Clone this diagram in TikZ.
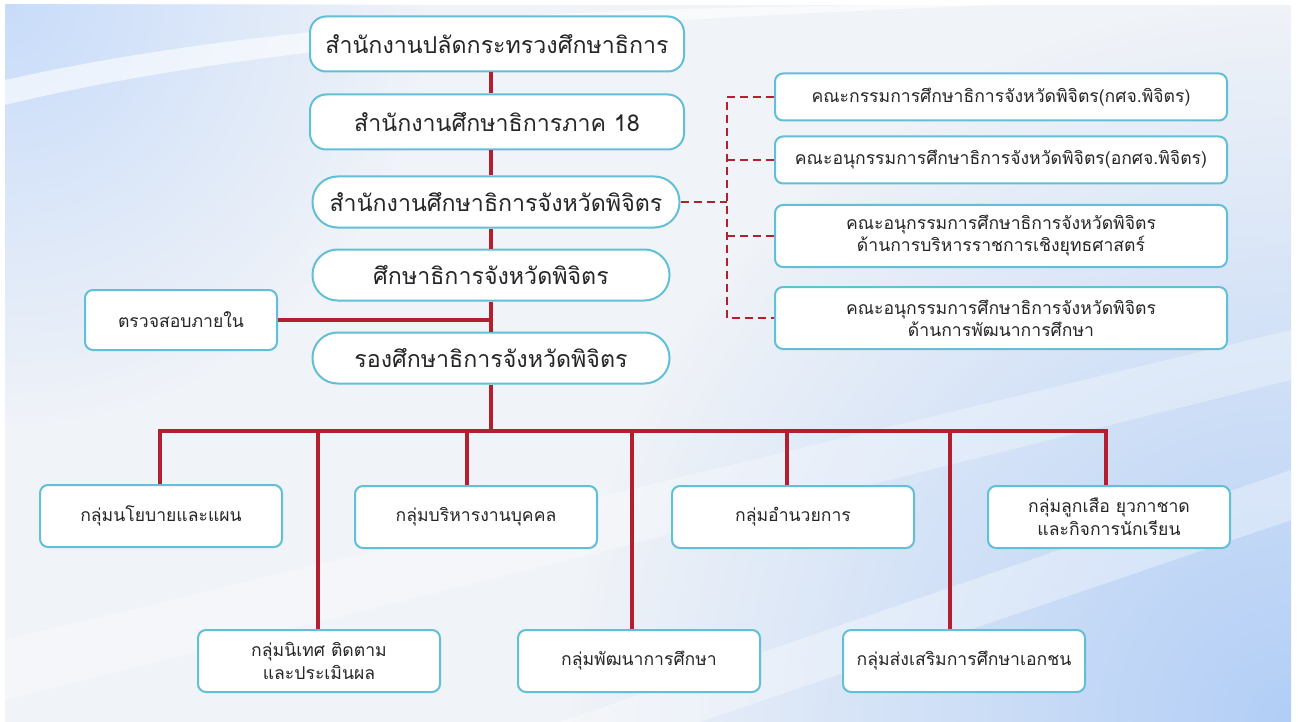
\documentclass[tikz,border=0pt]{standalone}
\usepackage{fontspec}
\newfontfamily\thaifont[Script=Thai]{Loma}
\usetikzlibrary{fadings}
\definecolor{lineRed}{RGB}{178,32,48}
\definecolor{edgeCyan}{RGB}{98,192,214}
\definecolor{bgPale}{RGB}{240,243,248}
\definecolor{bgTL}{RGB}{200,220,250}
\definecolor{bgBR}{RGB}{178,206,246}
\tikzfading[name=softglow, inner color=transparent!0, outer color=transparent!100]
\tikzset{
  unitbox/.style={draw=edgeCyan, line width=1pt, fill=white, text=black!85, align=center, inner sep=0pt},
  headbox/.style={unitbox, minimum width=187pt, minimum height=27.5pt, rounded corners=8pt, font=\thaifont\fontsize{11.6}{14}\selectfont},
  pillbox/.style={unitbox, minimum width=178.5pt, minimum height=25.5pt, rounded corners=12.5pt, font=\thaifont\fontsize{11.6}{14}\selectfont},
  groupbox/.style={unitbox, minimum width=121pt, minimum height=31pt, rounded corners=4pt, font=\thaifont\fontsize{8.8}{11.5}\selectfont},
  combox/.style={unitbox, minimum width=226pt, minimum height=23.5pt, rounded corners=4pt, font=\thaifont\fontsize{8.8}{11}\selectfont},
  redline/.style={draw=lineRed, line width=2.4pt},
  reddash/.style={draw=lineRed, line width=1.1pt, dash pattern=on 4pt off 2.5pt}
}
\begin{document}
\begin{tikzpicture}[x=0.5pt,y=-0.5pt]
\fill[white] (0,0) rectangle (1302,722);
\begin{scope}
\clip (5,5) rectangle (1291,722);
\fill[bgPale] (5,5) rectangle (1291,722);
\fill[bgTL, path fading=softglow] (5,5) circle (420);
\fill[bgBR, path fading=softglow] (1291,722) circle (720);
\fill[white,opacity=0.6] (5,80) .. controls (250,25) and (550,8) .. (900,5) -- (1000,5) .. controls (600,20) and (250,45) .. (5,105) -- cycle;
\fill[white,opacity=0.35] (560,722) -- (1291,470) -- (1291,520) -- (700,722) -- cycle;
\fill[white,opacity=0.3] (5,640) -- (1291,330) -- (1291,380) -- (5,700) -- cycle;
\end{scope}

\node[headbox] (ops) at (497,44) {สำนักงานปลัดกระทรวงศึกษาธิการ};
\node[headbox] (reg) at (497,122) {สำนักงานศึกษาธิการภาค 18};
\node[pillbox, minimum width=183.5pt] (pho) at (496,202) {สำนักงานศึกษาธิการจังหวัดพิจิตร};
\node[pillbox] (head) at (491,275) {ศึกษาธิการจังหวัดพิจิตร};
\node[pillbox] (dep) at (491,358) {รองศึกษาธิการจังหวัดพิจิตร};
\node[groupbox, minimum width=96pt, minimum height=30pt] (audit) at (181,320) {ตรวจสอบภายใน};

\node[combox] (c1) at (1001,97) {คณะกรรมการศึกษาธิการจังหวัดพิจิตร(กศจ.พิจิตร)};
\node[combox] (c2) at (1001,160) {คณะอนุกรรมการศึกษาธิการจังหวัดพิจิตร(อกศจ.พิจิตร)};
\node[combox, minimum height=31pt] (c3) at (1001,236) {คณะอนุกรรมการศึกษาธิการจังหวัดพิจิตร\\ด้านการบริหารราชการเชิงยุทธศาสตร์};
\node[combox, minimum height=31pt] (c4) at (1001,318) {คณะอนุกรรมการศึกษาธิการจังหวัดพิจิตร\\ด้านการพัฒนาการศึกษา};

\node[groupbox] (plan) at (161,516) {กลุ่มนโยบายและแผน};
\node[groupbox] (super) at (319,661) {กลุ่มนิเทศ ติดตาม\\และประเมินผล};
\node[groupbox] (staff) at (476,517) {กลุ่มบริหารงานบุคคล};
\node[groupbox] (dev) at (639,661) {กลุ่มพัฒนาการศึกษา};
\node[groupbox] (admin) at (793,517) {กลุ่มอำนวยการ};
\node[groupbox] (priv) at (964,661) {กลุ่มส่งเสริมการศึกษาเอกชน};
\node[groupbox] (scout) at (1109,517) {กลุ่มลูกเสือ ยุวกาชาด\\และกิจการนักเรียน};

\coordinate (spine) at (491,0);
\coordinate (junc) at (727,202);
\foreach \nm/\xx in {plan/160, super/318, staff/467, dev/632, admin/787, priv/950, scout/1106}
  \coordinate (d-\nm) at (\xx,431);

\draw[redline] (spine |- ops.south) -- (spine |- reg.north);
\draw[redline] (spine |- reg.south) -- (spine |- pho.north);
\draw[redline] (spine |- pho.south) -- (head.north);
\draw[redline] (head.south) -- (dep.north);
\draw[redline] (audit.east) -- (audit.east -| spine);
\draw[redline] (dep.south) -- (dep.south |- d-plan);
\draw[redline] (plan.north -| d-plan) -- (d-plan) -- (d-scout) -- (scout.north -| d-scout);
\foreach \nm in {super, staff, dev, admin, priv}
  \draw[redline] (d-\nm) -- (d-\nm |- \nm.north);

\draw[reddash] (pho.east) -- (junc);
\draw[reddash] (c1.west) -| (junc |- c4.west) -- (c4.west);
\draw[reddash] (c2.west) -- (c2.west -| junc);
\draw[reddash] (c3.west) -- (c3.west -| junc);
\end{tikzpicture}
\end{document}
